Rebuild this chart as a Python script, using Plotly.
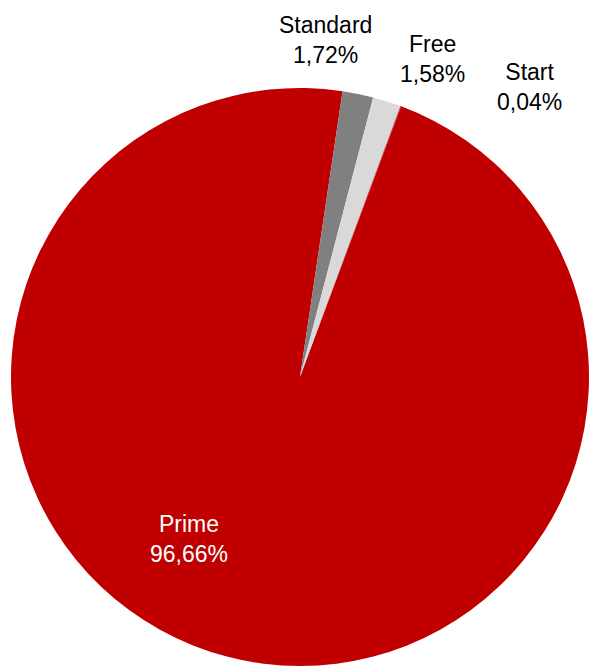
import plotly.graph_objects as go

labels = ["Prime", "Standard", "Free", "Start"]
values = [96.66, 1.72, 1.58, 0.04]
colors = ["#C00000", "#808080", "#D9D9D9", "#C00000"]

# label block centres in pixels (layout, not data)
label_px = {"Prime": (189, 539), "Standard": (325, 40), "Free": (432, 59), "Start": (529, 87)}
label_colors = {"Prime": "white", "Standard": "black", "Free": "black", "Start": "black"}

W, H = 590, 666
ML, MR, MT, MB = 10, 0, 88, 0
PW, PH = W - ML - MR, H - MT - MB

fig = go.Figure(
    go.Pie(
        labels=labels,
        values=values,
        sort=False,
        direction="clockwise",
        rotation=20.5,
        marker=dict(colors=colors, line=dict(width=0)),
        textinfo="none",
        showlegend=False,
        hoverinfo="label+percent",
    )
)

total = sum(values)
annotations = []
for lab, val in zip(labels, values):
    px, py = label_px[lab]
    pct = f"{100 * val / total:.2f}%".replace(".", ",")
    annotations.append(
        dict(
            text=f"{lab}<br>{pct}",
            x=(px - ML) / PW,
            y=1 - (py - MT) / PH,
            xref="paper",
            yref="paper",
            xanchor="center",
            yanchor="middle",
            showarrow=False,
            font=dict(color=label_colors[lab], size=23, family="Liberation Sans, Arial, sans-serif"),
        )
    )

fig.update_layout(
    width=W,
    height=H,
    margin=dict(l=ML, r=MR, t=MT, b=MB),
    paper_bgcolor="white",
    separators=",.",
    font=dict(family="Liberation Sans, Arial, sans-serif", size=23, color="black"),
    annotations=annotations,
)

fig.write_html(
    "out.html",
    config={"displayModeBar": False},
    post_script="document.body.style.margin='0';document.body.style.overflow='hidden';",
)
